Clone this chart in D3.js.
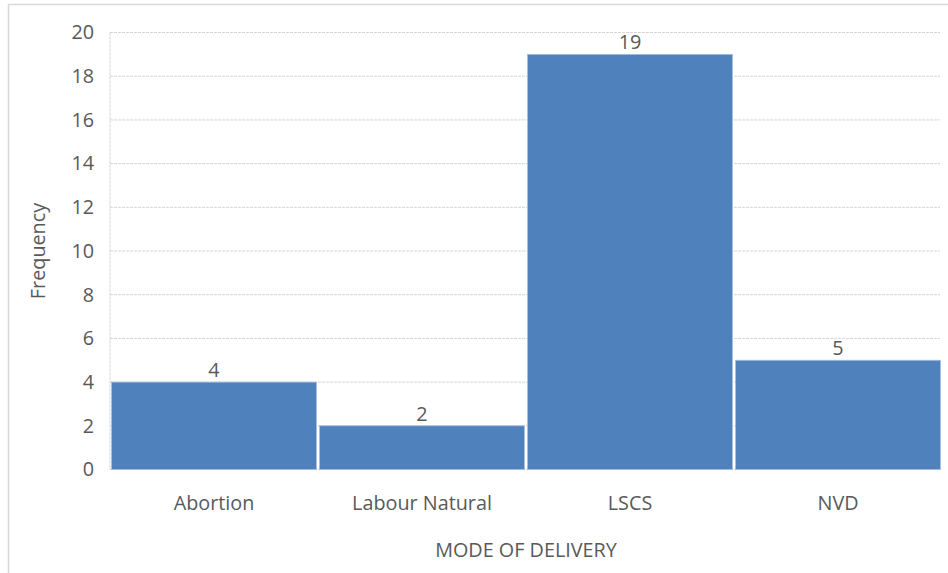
<!DOCTYPE html>
<html>
<head>
<meta charset="utf-8">
<script src="https://cdn.jsdelivr.net/npm/d3@7"></script>
<style>
  html, body { margin: 0; padding: 0; background: #fff; }
  svg text { font-family: "Open Sans", "Noto Sans", "Liberation Sans", sans-serif; fill: #595959; }
</style>
</head>
<body>
<svg id="chart" width="948" height="573"></svg>
<script>
// Delivery modes and how often each occurred
const categories = ["Abortion", "Labour Natural", "LSCS", "NVD"];
const frequencies = [4, 2, 19, 5];
const yTicks = [0, 2, 4, 6, 8, 10, 12, 14, 16, 18, 20];

const svg = d3.select("#chart");
const W = 948, H = 573;
const plot = { left: 110, right: 942, top: 32.5, bottom: 469.5 };
const fontSize = "19.8px";

// Outer chart frame
svg.append("rect")
  .attr("x", 8.5).attr("y", 4.5)
  .attr("width", W + 10).attr("height", H + 10)
  .attr("fill", "#fff").attr("stroke", "#d9d9d9").attr("stroke-width", 1.5);

const x = d3.scaleBand().domain(categories).range([plot.left, plot.right]).paddingInner(0).paddingOuter(0);
const y = d3.scaleLinear().domain([0, 20]).range([plot.bottom, plot.top]);

// Horizontal gridlines
svg.append("g").selectAll("line").data(yTicks).join("line")
  .attr("x1", plot.left).attr("x2", plot.right - 2)
  .attr("y1", d => y(d)).attr("y2", d => y(d))
  .attr("stroke", "#d4d4d4").attr("stroke-width", 1)
  .attr("stroke-dasharray", "3,1");

// Left axis line
svg.append("line")
  .attr("x1", plot.left).attr("x2", plot.left)
  .attr("y1", plot.top).attr("y2", plot.bottom)
  .attr("stroke", "#d4d4d4").attr("stroke-dasharray", "3,1");

// Y axis tick labels
const yAxis = d3.axisLeft(y).tickValues(yTicks).tickSize(0).tickPadding(16);
const gy = svg.append("g").attr("transform", `translate(${plot.left},0)`).call(yAxis);
gy.select(".domain").remove();
gy.selectAll("text").style("font-size", fontSize).style("font-family", null).attr("fill", "#595959");

// Bars
const gap = 1;
svg.append("g").selectAll("rect").data(categories).join("rect")
  .attr("x", d => x(d) + gap + 0.5)
  .attr("y", (d, i) => y(frequencies[i]))
  .attr("width", x.bandwidth() - 2 * gap - 1)
  .attr("height", (d, i) => y(0) - y(frequencies[i]))
  .attr("fill", "#4f81bd")
  .attr("stroke", "#a9bfdc").attr("stroke-width", 0.8);

// Value labels above bars
svg.append("g").selectAll("text").data(categories).join("text")
  .attr("x", d => x(d) + x.bandwidth() / 2)
  .attr("y", (d, i) => y(frequencies[i]) - 5)
  .attr("text-anchor", "middle")
  .style("font-size", fontSize)
  .text((d, i) => frequencies[i]);

// X axis category labels
const xAxis = d3.axisBottom(x).tickSize(0).tickPadding(26);
const gx = svg.append("g").attr("transform", `translate(0,${plot.bottom})`).call(xAxis);
gx.select(".domain").remove();
gx.selectAll("text").style("font-size", fontSize).style("font-family", null).attr("fill", "#595959");

// Axis titles
svg.append("text")
  .attr("x", (plot.left + plot.right) / 2).attr("y", 557)
  .attr("text-anchor", "middle").style("font-size", fontSize)
  .text("MODE OF DELIVERY");

svg.append("text")
  .attr("transform", `translate(45,${(plot.top + plot.bottom) / 2}) rotate(-90)`)
  .attr("text-anchor", "middle").style("font-size", fontSize)
  .text("Frequency");
</script>
</body>
</html>
